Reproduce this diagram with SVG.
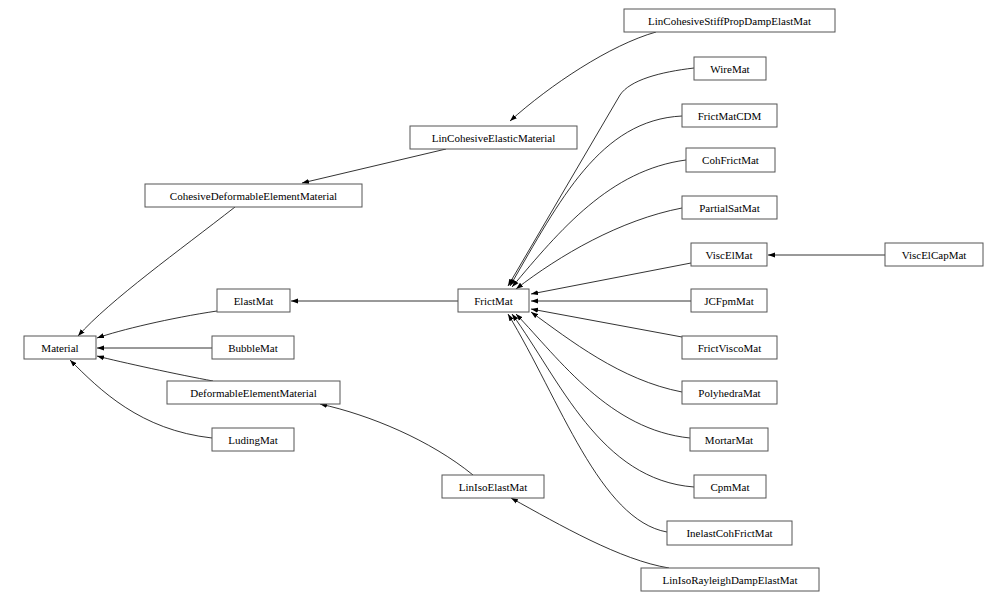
<svg xmlns="http://www.w3.org/2000/svg" width="1006" height="603" viewBox="0 0 1006 603">
<style>
.n rect{fill:#fff;stroke:#555;stroke-width:1}
.n text{font-family:"Liberation Serif",serif;font-size:11px;text-anchor:middle;fill:#000}
#edges path{fill:none;stroke:#000;stroke-width:0.8;marker-end:url(#a)}
</style>
<defs><marker id="a" markerUnits="userSpaceOnUse" markerWidth="8" markerHeight="6" refX="7" refY="3" orient="auto"><path d="M0,0.5 L7,3 L0,5.5 Z" fill="#000"/></marker></defs>
<rect width="1006" height="603" fill="#fff"/>
<g id="edges">
<path d="M656,32 C610,45 550,85 510,121"/>
<path d="M694,68 C660,72 630,80 620,95 L508,286"/>
<path d="M682,116 C600,120 560,200 510,286"/>
<path d="M686,160 C610,170 560,230 512,287"/>
<path d="M682,208 C620,220 560,255 516,289"/>
<path d="M691,263 L531,294"/>
<path d="M691,301 L531,301"/>
<path d="M682,337 L531,309"/>
<path d="M682,392 C620,380 570,340 531,312"/>
<path d="M690,438 C610,430 560,360 516,314"/>
<path d="M694,487 C600,480 560,380 512,314"/>
<path d="M667,532 C600,520 560,400 508,314"/>
<path d="M885,255 L768,255"/>
<path d="M458,301 L291,301"/>
<path d="M217,311 C170,318 120,330 97,338"/>
<path d="M212,348 L97,348"/>
<path d="M213,381 C180,375 120,362 97,356"/>
<path d="M212,438 C140,430 100,390 70,360"/>
<path d="M235,207 C180,250 110,300 78,336"/>
<path d="M446,149 L302,183"/>
<path d="M473,475 C430,440 370,415 320,404"/>
<path d="M669,568 C620,560 560,525 511,498"/>
</g>
<g id="LinCohesiveStiffPropDampElastMat" class="n"><rect x="624" y="9" width="211" height="23"/><text x="729.5" y="24.5">LinCohesiveStiffPropDampElastMat</text></g>
<g id="WireMat" class="n"><rect x="694" y="57" width="72" height="23"/><text x="730" y="72.5">WireMat</text></g>
<g id="FrictMatCDM" class="n"><rect x="682" y="104" width="95" height="23"/><text x="729.5" y="119.5">FrictMatCDM</text></g>
<g id="CohFrictMat" class="n"><rect x="686" y="148" width="89" height="24"/><text x="730.5" y="164">CohFrictMat</text></g>
<g id="PartialSatMat" class="n"><rect x="682" y="196" width="95" height="23"/><text x="729.5" y="211.5">PartialSatMat</text></g>
<g id="ViscElMat" class="n"><rect x="691" y="243" width="76" height="23"/><text x="729" y="258.5">ViscElMat</text></g>
<g id="ViscElCapMat" class="n"><rect x="885" y="243" width="98" height="23"/><text x="934" y="258.5">ViscElCapMat</text></g>
<g id="JCFpmMat" class="n"><rect x="691" y="289" width="76" height="23"/><text x="729" y="304.5">JCFpmMat</text></g>
<g id="FrictViscoMat" class="n"><rect x="682" y="336" width="95" height="23"/><text x="729.5" y="351.5">FrictViscoMat</text></g>
<g id="PolyhedraMat" class="n"><rect x="682" y="381" width="95" height="23"/><text x="729.5" y="396.5">PolyhedraMat</text></g>
<g id="MortarMat" class="n"><rect x="690" y="428" width="78" height="23"/><text x="729" y="443.5">MortarMat</text></g>
<g id="CpmMat" class="n"><rect x="694" y="475" width="72" height="23"/><text x="730" y="490.5">CpmMat</text></g>
<g id="InelastCohFrictMat" class="n"><rect x="667" y="521" width="125" height="24"/><text x="729.5" y="537">InelastCohFrictMat</text></g>
<g id="LinIsoRayleighDampElastMat" class="n"><rect x="641" y="568" width="178" height="23"/><text x="730" y="583.5">LinIsoRayleighDampElastMat</text></g>
<g id="LinCohesiveElasticMaterial" class="n"><rect x="410" y="126" width="167" height="23"/><text x="493.5" y="141.5">LinCohesiveElasticMaterial</text></g>
<g id="CohesiveDeformableElementMaterial" class="n"><rect x="145" y="184" width="217" height="23"/><text x="253.5" y="199.5">CohesiveDeformableElementMaterial</text></g>
<g id="ElastMat" class="n"><rect x="217" y="289" width="73" height="23"/><text x="253.5" y="304.5">ElastMat</text></g>
<g id="FrictMat" class="n"><rect x="458" y="289" width="71" height="23"/><text x="493.5" y="304.5">FrictMat</text></g>
<g id="Material" class="n"><rect x="24" y="336" width="72" height="23"/><text x="60" y="351.5">Material</text></g>
<g id="BubbleMat" class="n"><rect x="212" y="336" width="82" height="23"/><text x="253" y="351.5">BubbleMat</text></g>
<g id="DeformableElementMaterial" class="n"><rect x="167" y="381" width="173" height="23"/><text x="253.5" y="396.5">DeformableElementMaterial</text></g>
<g id="LudingMat" class="n"><rect x="212" y="428" width="82" height="23"/><text x="253" y="443.5">LudingMat</text></g>
<g id="LinIsoElastMat" class="n"><rect x="442" y="475" width="102" height="23"/><text x="493" y="490.5">LinIsoElastMat</text></g>
</svg>
